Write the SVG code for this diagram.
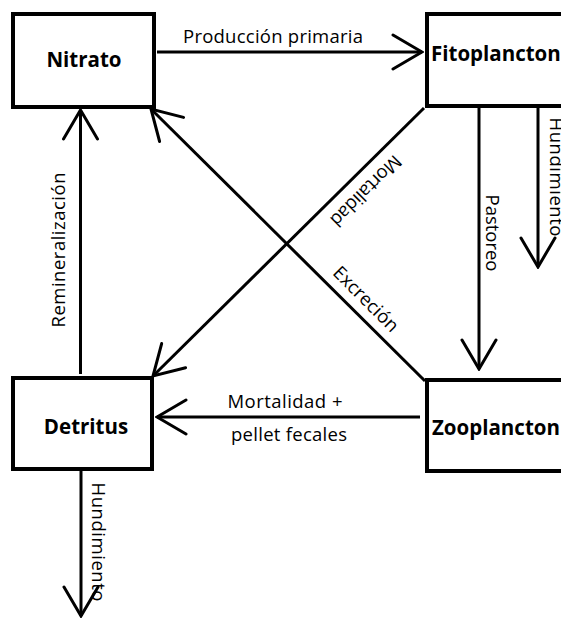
<svg xmlns="http://www.w3.org/2000/svg" width="561" height="623" viewBox="0 0 561 623">
  <style>
    .box { fill: #ffffff; stroke: #000000; stroke-width: 4; }
    .title { font-family: "Open Sans", "Liberation Sans", sans-serif; font-weight: bold; font-size: 20.5px; fill: #000000; }
    .lbl { font-family: "Open Sans", "Liberation Sans", sans-serif; font-size: 18.5px; fill: #000000; }
    .flow { fill: none; stroke: #000000; stroke-width: 3; marker-end: url(#head); }
  </style>
  <defs>
    <marker id="head" markerUnits="userSpaceOnUse" viewBox="-32 -20 34 40" markerWidth="34" markerHeight="40" refX="0" refY="0" orient="auto">
      <path d="M-29,-17 L0,0 L-29,17" fill="none" stroke="#000000" stroke-width="3" stroke-linecap="round" stroke-linejoin="miter"/>
    </marker>
  </defs>

  <rect width="561" height="623" fill="#ffffff"/>

  <!-- flows between compartments -->
  <g id="connectors">
    <line class="flow" x1="157" y1="52" x2="422" y2="52"/>
    <line class="flow" x1="80.5" y1="374" x2="80.5" y2="110"/>
    <line class="flow" x1="424" y1="108" x2="153" y2="376"/>
    <line class="flow" x1="425" y1="381" x2="151" y2="109"/>
    <line class="flow" x1="479" y1="106" x2="479" y2="369"/>
    <line class="flow" x1="538" y1="99" x2="538" y2="267"/>
    <line class="flow" x1="420" y1="417" x2="157" y2="417"/>
    <line class="flow" x1="81" y1="471" x2="81" y2="616"/>

    <text class="lbl" x="273" y="43" text-anchor="middle" textLength="180">Producción primaria</text>
    <text class="lbl" transform="translate(65,250) rotate(-90)" text-anchor="middle" textLength="155">Remineralización</text>
    <text class="lbl" transform="translate(365,190) rotate(135)" text-anchor="middle" dy="5" textLength="92">Mortalidad</text>
    <text class="lbl" transform="translate(365,300) rotate(45)" text-anchor="middle" dy="5" textLength="84">Excreción</text>
    <text class="lbl" transform="translate(486,233) rotate(90)" text-anchor="middle" textLength="77">Pastoreo</text>
    <text class="lbl" transform="translate(550,177) rotate(90)" text-anchor="middle" textLength="119">Hundimiento</text>
    <text class="lbl" x="285" y="408" text-anchor="middle" textLength="115">Mortalidad +</text>
    <text class="lbl" x="289" y="441" text-anchor="middle" textLength="116">pellet fecales</text>
    <text class="lbl" transform="translate(92,542) rotate(90)" text-anchor="middle" textLength="119">Hundimiento</text>
  </g>

  <g id="nitrato">
    <rect class="box" x="13" y="14" width="141" height="93"/>
    <text class="title" x="84" y="67" text-anchor="middle">Nitrato</text>
  </g>

  <g id="fitoplancton">
    <rect class="box" x="427" y="14" width="170" height="92"/>
    <text class="title" x="431" y="61">Fitoplancton</text>
  </g>

  <g id="detritus">
    <rect class="box" x="13" y="378" width="139" height="91"/>
    <text class="title" x="86" y="434" text-anchor="middle">Detritus</text>
  </g>

  <g id="zooplancton">
    <rect class="box" x="427" y="380" width="170" height="91"/>
    <text class="title" x="432" y="435">Zooplancton</text>
  </g>
</svg>
